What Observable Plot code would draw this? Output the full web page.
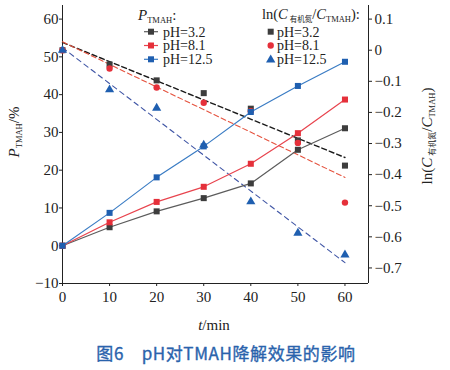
<!DOCTYPE html>
<html>
<head>
<meta charset="utf-8">
<script src="https://cdn.jsdelivr.net/npm/d3@7"></script>
<script src="https://cdn.jsdelivr.net/npm/@observablehq/plot@0.6"></script>
<style>
  html, body { margin: 0; padding: 0; background: white; }
  #chart { width: 450px; }
  #caption { width: 450px; height: 35px; line-height: 35px; text-align: center; padding-left: 2px; box-sizing: border-box;
    font-family: "Noto Sans CJK SC", sans-serif; font-size: 17px; font-weight: 400; color: #2a63ac; letter-spacing: 0.6px;
    -webkit-text-stroke: 0.35px #2a63ac; }
</style>
</head>
<body>
<div id="chart"></div>
<div id="caption">图6&nbsp;&nbsp;&nbsp;&nbsp;pH对TMAH降解效果的影响</div>
<script>
// ---- data ----
const time = [0, 10, 20, 30, 40, 50, 60];
const seriesNames = ["pH=3.2", "pH=8.1", "pH=12.5"];
// P_TMAH (%), left axis
const P32  = [0, 4.9, 9.1, 12.6, 16.5, 25.4, 31.1];
const P81  = [0, 6.2, 11.6, 15.6, 21.7, 29.8, 38.7];
const P125 = [0, 8.7, 18.1, 26.3, 35.4, 42.3, 48.7];
// ln(C_organicN / C_TMAH), right axis
const ln32  = [0, -0.046, -0.097, -0.138, -0.188, -0.290, -0.371];
const ln81  = [0, -0.059, -0.120, -0.169, -0.196, -0.298, -0.490];
const ln125 = [0, -0.127, -0.186, -0.305, -0.487, -0.588, -0.658];
// linear-fit endpoints (t = 0 and t = 60), right axis
const fitT = [0, 60];
const fit32  = [0.025, -0.345];
const fit81  = [0.027, -0.409];
const fit125 = [0.008, -0.683];
// ticks
const xTicks = [0, 10, 20, 30, 40, 50, 60];
const leftTicks = [-10, 0, 10, 20, 30, 40, 50, 60];
const rightTicks = [0.1, 0, -0.1, -0.2, -0.3, -0.4, -0.5, -0.6, -0.7];

// right axis value -> left axis value
const toL = r => -10 + (r + 0.75) * 70 / 0.85;
const fromL = l => (l + 10) * 0.85 / 70 - 0.75;

const colors = {
  gray: {line: "#5c5c5c", mark: "#3d3d3d", dash: "#1a1a1a"},
  red:  {line: "#e8444e", mark: "#e5303a", dash: "#e5533f"},
  blue: {line: "#3a7cc4", mark: "#1f5fb0", dash: "#3f55a5"}
};
const keys = ["gray", "red", "blue"];
const Ps = [P32, P81, P125];
const lns = [ln32, ln81, ln125];
const fits = [fit32, fit81, fit125];
const symbols = ["square", "circle", "triangle"];

const marks = [
  Plot.axisX({ticks: xTicks, tickSize: 3, tickPadding: 5, label: null, fontSize: 15}),
  Plot.axisY({ticks: leftTicks, tickSize: 3, tickPadding: 1, label: null, fontSize: 15}),
  Plot.axisY({anchor: "right", ticks: rightTicks.map(toL), tickSize: 3, tickPadding: 3, label: null, fontSize: 15,
    tickFormat: d => { const v = Math.round(fromL(d) * 10) / 10; return v === 0 ? "0" : (v < 0 ? "\u2212" : "") + Math.abs(v).toFixed(1); }}),
  Plot.ruleX([0], {stroke: "#222"}),
  Plot.ruleX([65], {stroke: "#222"}),
  Plot.ruleY([-10], {stroke: "#222"})
];
// dashed fits
keys.forEach((k, i) => {
  marks.push(Plot.line(fitT.map((t, j) => ({t, v: toL(fits[i][j])})), {
    x: "t", y: "v", stroke: colors[k].dash, strokeWidth: k === "gray" ? 1.4 : 1.1,
    strokeDasharray: k === "blue" ? "5,4" : "5,3"
  }));
});
// scatter (ln)
keys.forEach((k, i) => {
  const rows = time.map((t, j) => ({t, v: toL(lns[i][j])}));
  marks.push(Plot.dot(rows, {x: "t", y: "v", symbol: symbols[i], fill: colors[k].mark, stroke: "none",
    r: symbols[i] === "circle" ? 3.2 : 3.4}));
});
// solid lines with squares (P_TMAH)
keys.forEach((k, i) => {
  const rows = time.map((t, j) => ({t, v: Ps[i][j]}));
  marks.push(Plot.line(rows, {x: "t", y: "v", stroke: colors[k].line, strokeWidth: 1.2}));
  marks.push(Plot.dot(rows, {x: "t", y: "v", symbol: "square", fill: colors[k].mark, stroke: "none", r: 3.4}));
});

const plot = Plot.plot({
  width: 450, height: 335,
  marginLeft: 62, marginRight: 82, marginTop: 5, marginBottom: 52,
  x: {domain: [0, 65]},
  y: {domain: [-10, 63.6]},
  style: {fontFamily: "Liberation Serif, Times New Roman, serif", fontSize: "15px", color: "#222", background: "white"},
  marks
});
document.getElementById("chart").appendChild(plot);

// ---- annotations: legends and axis titles ----
const svg = d3.select(plot);
const SERIF = "Liberation Serif, serif";
function richText(g, parts, attrs) {
  const t = g.append("text").attr("font-family", SERIF).attr("fill", "#222").attr("text-anchor", "start");
  for (const [k, v] of Object.entries(attrs)) t.attr(k, v);
  parts.forEach(p => {
    const s = t.append("tspan").text(p.text);
    if (p.italic) s.attr("font-style", "italic");
    if (p.size) s.attr("font-size", p.size);
    if (p.dy) s.attr("dy", p.dy);
    if (p.dx) s.attr("dx", p.dx);
    if (p.font) s.attr("font-family", p.font);
  });
  return t;
}
const ann = svg.append("g").attr("text-anchor", "start");
// left legend
richText(ann, [
  {text: "P", italic: true, size: 15},
  {text: "TMAH", size: 8.5, dy: 3},
  {text: ":", size: 15, dy: -3}
], {x: 138, y: 20});
const rowsY = [31.7, 45.5, 59.3];
keys.forEach((k, i) => {
  ann.append("line").attr("x1", 144).attr("x2", 158).attr("y1", rowsY[i]).attr("y2", rowsY[i])
    .attr("stroke", colors[k].line).attr("stroke-width", 1.2);
  ann.append("rect").attr("x", 148).attr("y", rowsY[i] - 3).attr("width", 6).attr("height", 6).attr("fill", colors[k].mark);
  ann.append("text").attr("x", 163).attr("y", rowsY[i] + 4.8).attr("font-family", SERIF).attr("font-size", 14)
    .attr("text-anchor", "start").attr("fill", "#222").text(seriesNames[i]);
});
// right legend
richText(ann, [
  {text: "ln(", size: 14.5},
  {text: "C", italic: true, size: 14.5},
  {text: "有机氮", size: 7.5, dy: 3, dx: 2, font: "Noto Sans CJK SC"},
  {text: "/", size: 14.5, dy: -3},
  {text: "C", italic: true, size: 14.5},
  {text: "TMAH", size: 8.5, dy: 3},
  {text: "):", size: 14.5, dy: -3}
], {x: 262, y: 19});
keys.forEach((k, i) => {
  const type = [d3.symbolSquare, d3.symbolCircle, d3.symbolTriangle][i];
  const size = [36, 32, 38][i];
  ann.append("path").attr("d", d3.symbol().type(type).size(size)())
    .attr("transform", `translate(270.7,${rowsY[i] + (i === 2 ? 0.5 : 0)})`).attr("fill", colors[k].mark);
  ann.append("text").attr("x", 277).attr("y", rowsY[i] + 4.8).attr("font-family", SERIF).attr("font-size", 14)
    .attr("text-anchor", "start").attr("fill", "#222").text(seriesNames[i]);
});
// left axis title
richText(ann, [
  {text: "P", italic: true, size: 15},
  {text: "TMAH", size: 8.5, dy: 3},
  {text: "/%", size: 15, dy: -3}
], {transform: "translate(19,132) rotate(-90)", "text-anchor": "middle"});
// right axis title
richText(ann, [
  {text: "ln(", size: 15},
  {text: "C", italic: true, size: 15},
  {text: "有机氮", size: 8, dy: 3, dx: 2, font: "Noto Sans CJK SC"},
  {text: "/", size: 15, dy: -3},
  {text: "C", italic: true, size: 15},
  {text: "TMAH", size: 8.5, dy: 3},
  {text: ")", size: 15, dy: -3}
], {transform: "translate(432,136) rotate(-90)", "text-anchor": "middle"});
// x axis title
richText(ann, [
  {text: "t", italic: true, size: 15},
  {text: "/min", size: 15}
], {x: 214, y: 330, "text-anchor": "middle"});
</script>
</body>
</html>
